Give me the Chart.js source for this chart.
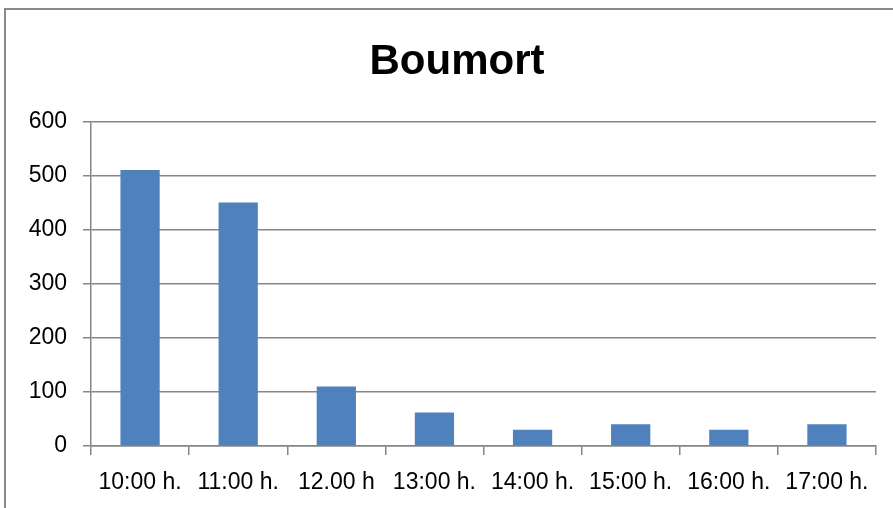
<!DOCTYPE html>
<html>
<head>
<meta charset="utf-8">
<script src="https://cdn.jsdelivr.net/npm/chart.js@4.4.1/dist/chart.umd.min.js"></script>
<style>
  html, body { margin: 0; padding: 0; background: #fff; }
  #wrap { width: 893px; height: 508px; }
</style>
</head>
<body>
<div id="wrap"><canvas id="boumortChart" width="893" height="508"></canvas></div>
<script>
const hours = ['10:00 h.', '11:00 h.', '12.00 h', '13:00 h.', '14:00 h.', '15:00 h.', '16:00 h.', '17:00 h.'];
const visitors = [510, 450, 110, 62, 30, 40, 30, 40];
const yTicks = [0, 100, 200, 300, 400, 500, 600];

const gridGrey = '#868686';
const barBlue = '#4F81BD';

// outer chart frame (only the top and left edges are in the picture)
const framePlugin = {
    id: 'frame',
    beforeDraw(chart) {
        const ctx = chart.ctx;
        ctx.save();
        ctx.strokeStyle = '#8a8a8a';
        ctx.lineWidth = 2;
        ctx.beginPath();
        ctx.moveTo(5, 508);
        ctx.lineTo(5, 9);
        ctx.lineTo(893, 9);
        ctx.stroke();
        ctx.restore();
    },
    // the title is centred on the whole frame, which runs past the right edge
    afterLayout(chart) {
        const t = chart.titleBlock;
        if (t) {
            t.left += 19;
            t.right += 19;
        }
    }
};

const ctx = document.getElementById('boumortChart').getContext('2d');
new Chart(ctx, {
    type: 'bar',
    data: {
        labels: hours,
        datasets: [{
            label: 'Boumort',
            data: visitors,
            backgroundColor: barBlue,
            borderWidth: 0,
            barPercentage: 0.4,
            categoryPercentage: 1.0
        }]
    },
    options: {
        responsive: false,
        animation: false,
        layout: { padding: { left: 0, right: 17, top: 0, bottom: 0 } },
        scales: {
            x: {
                offset: true,
                grid: {
                    offset: true,
                    drawOnChartArea: false,
                    drawTicks: true,
                    tickLength: 9,
                    color: gridGrey,
                    lineWidth: 1.5
                },
                border: { display: true, color: gridGrey, width: 1.5 },
                ticks: {
                    color: '#000',
                    font: { family: 'Liberation Sans', size: 23 },
                    maxRotation: 0,
                    autoSkip: false,
                    padding: 14
                },
                afterFit(scale) { scale.height = 62; }
            },
            y: {
                min: 0,
                max: 600,
                afterBuildTicks(scale) { scale.ticks = yTicks.map(v => ({ value: v })); },
                grid: {
                    color: gridGrey,
                    lineWidth: 1.5,
                    drawTicks: true,
                    tickLength: 8
                },
                border: { display: true, color: gridGrey, width: 1.5 },
                ticks: {
                    color: '#000',
                    font: { family: 'Liberation Sans', size: 23 },
                    padding: 16
                },
                afterFit(scale) { scale.width = 91; }
            }
        },
        plugins: {
            legend: { display: false },
            tooltip: { enabled: false },
            title: {
                display: true,
                text: 'Boumort',
                color: '#000',
                font: { family: 'Liberation Sans', size: 42, weight: 'bold' },
                padding: { top: 37, bottom: 34 }
            }
        }
    },
    plugins: [framePlugin]
});
</script>
</body>
</html>
